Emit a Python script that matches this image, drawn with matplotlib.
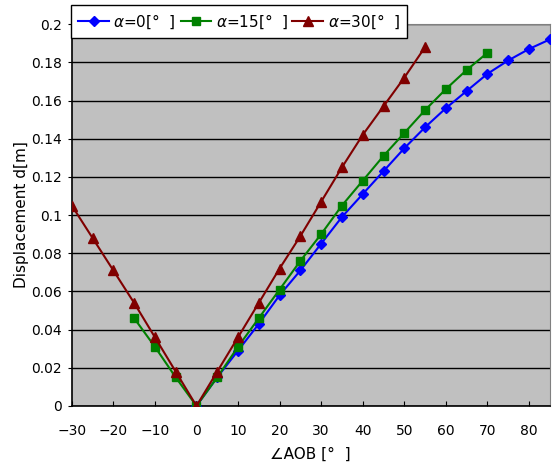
import matplotlib
matplotlib.use("Agg")
import matplotlib.pyplot as plt
import numpy as np

# angle AOB [deg] and displacement d [m] for each alpha
ang_a0 = [0, 5, 10, 15, 20, 25, 30, 35, 40, 45, 50, 55, 60, 65, 70, 75, 80, 85]
d_a0 = [0, 0.015, 0.029, 0.043, 0.058, 0.071, 0.085, 0.099, 0.111, 0.123,
        0.135, 0.146, 0.156, 0.165, 0.174, 0.181, 0.187, 0.192]

ang_a15 = [-15, -10, -5, 0, 5, 10, 15, 20, 25, 30, 35, 40, 45, 50, 55, 60, 65, 70]
d_a15 = [0.046, 0.031, 0.015, 0, 0.015, 0.031, 0.046, 0.061, 0.076, 0.090,
         0.105, 0.118, 0.131, 0.143, 0.155, 0.166, 0.176, 0.185]

ang_a30 = [-30, -25, -20, -15, -10, -5, 0, 5, 10, 15, 20, 25, 30, 35, 40, 45, 50, 55]
d_a30 = [0.105, 0.088, 0.071, 0.054, 0.036, 0.018, 0, 0.018, 0.036, 0.054,
         0.072, 0.089, 0.107, 0.125, 0.142, 0.157, 0.172, 0.188]

labels = [r"$\alpha$=0[°  ]", r"$\alpha$=15[°  ]", r"$\alpha$=30[°  ]"]

plt.rcParams['font.family'] = ['DejaVu Sans']
plt.rcParams['mathtext.fontset'] = 'dejavusans'

fig = plt.figure(figsize=(5.52, 4.65), dpi=100)
ax = fig.add_axes([0.130, 0.127, 0.866, 0.821])
ax.set_facecolor('#C0C0C0')

ax.plot(ang_a0, d_a0, color='#0000FF', marker='D', markersize=5, lw=1.5,
        label=labels[0], zorder=3)
ax.plot(ang_a15, d_a15, color='#008000', marker='s', markersize=6, lw=1.5,
        label=labels[1], zorder=3)
ax.plot(ang_a30, d_a30, color='#800000', marker='^', markersize=7, lw=1.5,
        label=labels[2], zorder=3)

ax.set_xlim(-30, 85)
ax.set_ylim(0, 0.2)
ax.set_xticks(np.arange(-30, 81, 10))
ax.set_yticks(np.arange(0, 0.201, 0.02))
ax.set_yticklabels(['0', '0.02', '0.04', '0.06', '0.08', '0.1', '0.12',
                    '0.14', '0.16', '0.18', '0.2'])
ax.yaxis.grid(True, color='black', lw=1)
ax.set_axisbelow(True)
ax.tick_params(axis='x', direction='in', length=3.5, labelsize=10, pad=13)
ax.tick_params(axis='y', direction='out', length=3, labelsize=10, pad=4)
for s in ['top', 'right']:
    ax.spines[s].set_color('#808080')
ax.spines['left'].set_linewidth(1.2)
ax.spines['bottom'].set_linewidth(1.2)

ax.set_xlabel("∠AOB [°  ]", fontsize=11, labelpad=6)
ax.set_ylabel("Displacement d[m]", fontsize=11, labelpad=1.5)

leg = fig.legend(loc='upper left', bbox_to_anchor=(0.128, 0.990), ncol=3,
                 fontsize=11, frameon=True, fancybox=False, handlelength=2.0,
                 handletextpad=0.3, columnspacing=0.3, borderpad=0.5,
                 borderaxespad=0)
leg.get_frame().set_edgecolor('black')
leg.get_frame().set_linewidth(1)
leg.get_frame().set_alpha(1)

fig.savefig("out.png", dpi=100)
